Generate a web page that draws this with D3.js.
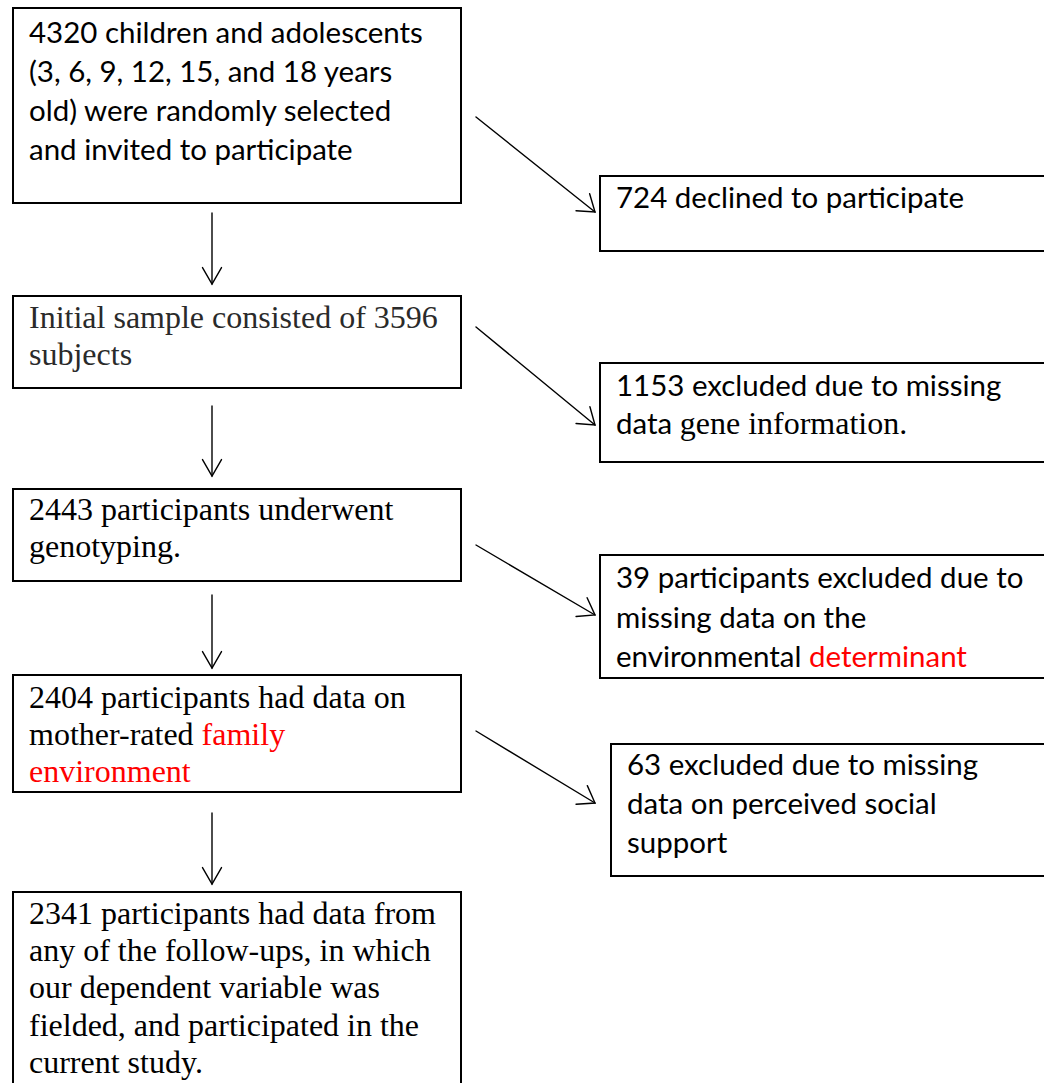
<!DOCTYPE html>
<html><head><meta charset="utf-8">
<script src="https://cdn.jsdelivr.net/npm/d3@7"></script>
<style>html,body{margin:0;padding:0;background:#fff;overflow:hidden;} svg{display:block;}</style>
</head><body>
<script>
// ---------------- DATA ----------------
const stepCounts = [4320, 3596, 2443, 2404, 2341];
const excludedCounts = [724, 1153, 39, 63];

// each line = list of segments [text, face, highlighted]
const stepLines = [
  [
    [[`${stepCounts[0]} children and adolescents`, "sans", false]],
    [["(3, 6, 9, 12, 15, and 18 years", "sans", false]],
    [["old) were randomly selected", "sans", false]],
    [["and invited to participate", "sans", false]]
  ],
  [
    [[`Initial sample consisted of ${stepCounts[1]}`, "serif", false]],
    [["subjects", "serif", false]]
  ],
  [
    [[`${stepCounts[2]} participants underwent`, "serif", false]],
    [["genotyping.", "serif", false]]
  ],
  [
    [[`${stepCounts[3]} participants had data on`, "serif", false]],
    [["mother-rated ", "serif", false], ["family", "serif", true]],
    [["environment", "serif", true]]
  ],
  [
    [[`${stepCounts[4]} participants had data from`, "serif", false]],
    [["any of the follow-ups, in which", "serif", false]],
    [["our dependent variable was", "serif", false]],
    [["fielded, and participated in the", "serif", false]],
    [["current study.", "serif", false]]
  ]
];

const exclusionLines = [
  [
    [[`${excludedCounts[0]} declined to participate`, "sans", false]]
  ],
  [
    [[`${excludedCounts[1]} excluded due to missing`, "sans", false]],
    [["data ", "sans", false], ["gene information.", "serif", false]]
  ],
  [
    [[`${excludedCounts[2]} participants excluded due to`, "sans", false]],
    [["missing data on the", "sans", false]],
    [["environmental ", "sans", false], ["determinant", "sans", true]]
  ],
  [
    [[`${excludedCounts[3]} excluded due to missing`, "sans", false]],
    [["data on perceived social", "sans", false]],
    [["support", "sans", false]]
  ]
];

// ---------------- LAYOUT ----------------
const W = 1044, H = 1083;
const stepBox = { left: 13, right: 461 };
const stepTop = [8, 296, 489, 675, 892];
const stepBottom = [203, 388, 581, 792, 1110];
const stepBaseline = [43, 328, 520, 708, 924];
const stepLead = [39, 37, 37, 37, 37.2];
const stepTextX = 29;

const exclLeft = [600, 600, 600, 611];
const exclTop = [176, 363, 555, 744];
const exclBottom = [251, 462, 678, 876];
const exclBaseline = [208, 396, 588, 775];
const exclLead = [39, 38, 39.5, 39];
const exclTextPad = 16;

const downArrowX = 212;
const downArrowY = [[213, 284], [406, 476], [595, 668], [813, 884]];
const diagStart = [[476, 117], [476, 327], [476, 545], [476, 731]];
const diagEnd = [[595, 212], [595, 425], [595, 615], [595, 803]];

const SANS = "Lato, Carlito, Calibri, 'Liberation Sans', sans-serif";
const SERIF = "'Liberation Serif', 'Times New Roman', serif";
const SERIF_SIZE = 32;

const svg = d3.select("body").append("svg")
  .attr("width", W).attr("height", H)
  .attr("viewBox", `0 0 ${W} ${H}`);

// fit sans size so that Lato width matches Calibri 32px widths in the reference
const probe = svg.append("text").attr("font-family", SANS).attr("font-size", 32)
  .text(`${stepCounts[0]} children and adolescents`);
const probeW = probe.node().getComputedTextLength();
probe.remove();
const SANS_SIZE = probeW > 0 ? 32 * 394 / probeW : 32;

// ---------------- BOXES ----------------
const gBoxes = svg.append("g").attr("fill", "none").attr("stroke", "#000").attr("stroke-width", 2);
gBoxes.selectAll("rect.step").data(stepTop).join("rect").attr("class", "step")
  .attr("x", stepBox.left).attr("y", d => d)
  .attr("width", stepBox.right - stepBox.left)
  .attr("height", (d, i) => stepBottom[i] - d);
gBoxes.selectAll("rect.excl").data(exclTop).join("rect").attr("class", "excl")
  .attr("x", (d, i) => exclLeft[i]).attr("y", d => d)
  .attr("width", (d, i) => W + 20 - exclLeft[i])
  .attr("height", (d, i) => exclBottom[i] - d);

// ---------------- TEXT ----------------
function drawLines(g, lines, x, y0, lead, baseColor) {
  lines.forEach((segs, li) => {
    const t = g.append("text").attr("x", x).attr("y", y0 + li * lead);
    segs.forEach(([txt, face, hl]) => {
      t.append("tspan")
        .attr("font-family", face === "sans" ? SANS : SERIF)
        .attr("font-size", face === "sans" ? SANS_SIZE : SERIF_SIZE)
        .attr("fill", hl ? "#ff0000" : baseColor)
        .style("white-space", "pre")
        .text(txt);
    });
    t.attr("xml:space", "preserve");
  });
}
const gText = svg.append("g");
stepLines.forEach((lines, i) => {
  drawLines(gText, lines, stepTextX, stepBaseline[i], stepLead[i], i === 1 ? "#2a2a2a" : "#000");
});
exclusionLines.forEach((lines, i) => {
  drawLines(gText, lines, exclLeft[i] + exclTextPad, exclBaseline[i], exclLead[i], "#000");
});

// ---------------- ARROWS ----------------
const gArr = svg.append("g").attr("fill", "none").attr("stroke", "#000")
  .attr("stroke-width", 1.4).attr("stroke-linecap", "round");
const line = d3.line();
function arrow(p0, p1, headLen, headAng) {
  gArr.append("path").attr("d", line([p0, p1]));
  const a = Math.atan2(p1[1] - p0[1], p1[0] - p0[0]) + Math.PI;
  const h1 = [p1[0] + headLen * Math.cos(a - headAng), p1[1] + headLen * Math.sin(a - headAng)];
  const h2 = [p1[0] + headLen * Math.cos(a + headAng), p1[1] + headLen * Math.sin(a + headAng)];
  gArr.append("path").attr("d", line([h1, p1, h2])).attr("stroke-linejoin", "miter");
}
downArrowY.forEach(([y0, y1]) => arrow([downArrowX, y0], [downArrowX, y1], 19, Math.PI / 6));
diagStart.forEach((s, i) => arrow(s, diagEnd[i], 19, 35 * Math.PI / 180));
</script>
</body></html>
